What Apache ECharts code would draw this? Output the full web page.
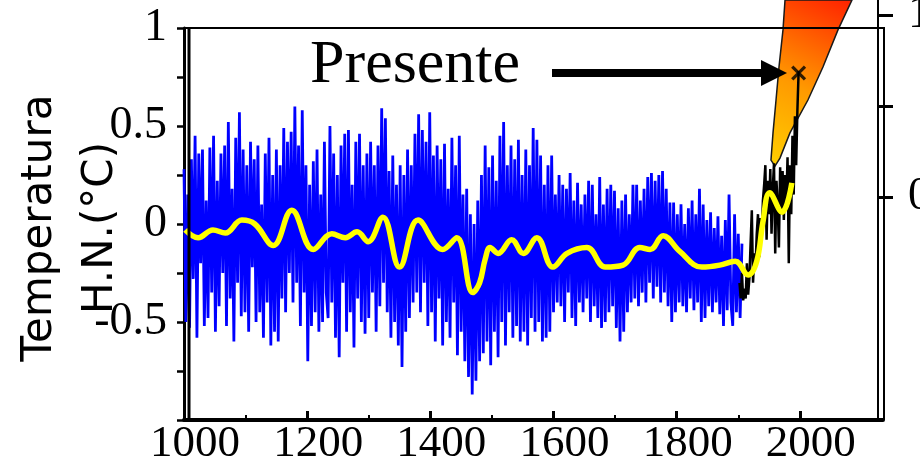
<!DOCTYPE html>
<html><head><meta charset="utf-8">
<script src="https://cdn.jsdelivr.net/npm/echarts@6/dist/echarts.min.js"></script>
<style>html,body{margin:0;padding:0;background:#fff}#c{width:920px;height:465px}</style>
</head><body><div id="c"></div>
<script>
// ---- axis ticks / labels ----
const xTickLabels = [1000, 1200, 1400, 1600, 1800, 2000];
const xMinorTicks = [1100, 1300, 1500, 1700, 1900];
const yLeftLabels = [1, 0.5, 0, -0.5];
const yRightTicks = [0, 0.5, 1];
const yRightLabels = [0, 1];

// ---- reconstruction (blue), one value every 3 years from 1000 ----
const blueStart = 1000, blueStep = 3;
const blue1000 = [0.28,-0.50,0.15,-0.53,0.33,-0.28,0.45,-0.58,0.36,-0.20,0.38,-0.52,0.12,-0.48,0.39,-0.35,0.45,-0.55,0.22,-0.42,0.36,-0.25,0.40,-0.52,0.52,-0.38,0.18,-0.60,0.44,-0.30,0.57,-0.47,0.38];
const blue1099 = [-0.45,0.30,-0.55,0.42,-0.22,0.33,-0.50,0.40,-0.45,0.10,-0.58,0.36,-0.40,0.44,-0.62,0.25,-0.55,0.38,-0.60,0.30,-0.38,0.49,-0.45,0.42,-0.25,0.47,-0.40,0.60,-0.30,0.40,-0.52,0.58,-0.35];
const blue1198 = [0.30,-0.70,0.20,-0.52,0.32,-0.45,0.38,-0.55,0.15,-0.50,0.42,-0.35,-0.48,0.50,-0.40,0.36,-0.58,0.25,-0.68,0.40,-0.30,0.46,-0.55,0.48,-0.45,0.20,-0.63,0.42,-0.38,0.46,-0.50,0.30,-0.56];
const blue1297 = [0.36,-0.48,0.42,-0.35,0.30,-0.55,0.40,-0.42,0.59,-0.30,0.54,-0.45,0.27,-0.58,0.35,-0.50,0.20,-0.62,0.30,-0.73,0.25,-0.55,0.38,-0.48,0.30,-0.40,0.46,-0.35,0.56,-0.45,0.48,-0.30,0.42];
const blue1396 = [-0.52,0.57,-0.45,0.35,-0.60,0.40,-0.38,0.33,-0.62,0.41,-0.50,0.18,-0.58,0.44,-0.40,0.30,-0.67,0.45,-0.55,0.15,-0.70,0.18,-0.78,0.05,-0.87,0.00,-0.80,0.12,-0.70,0.25,-0.66,0.40,-0.60];
const blue1495 = [0.29,-0.72,0.35,-0.55,0.22,-0.68,0.45,-0.50,0.52,-0.62,0.30,-0.45,0.40,-0.58,0.33,-0.52,0.43,-0.60,0.25,-0.55,0.38,-0.62,0.30,-0.48,0.49,-0.55,0.43,-0.50,0.35,-0.60,0.20,-0.58,0.30];
const blue1594 = [-0.55,0.35,-0.45,0.15,-0.40,0.25,-0.42,0.20,-0.50,0.18,-0.35,0.26,-0.48,0.12,-0.52,0.21,-0.40,0.10,-0.45,0.15,-0.38,0.22,-0.50,0.20,-0.42,0.05,-0.48,0.24,-0.53,0.10,-0.50,0.18,-0.45];
const blue1693 = [0.20,-0.42,0.17,-0.53,0.08,-0.60,0.12,-0.55,0.15,-0.45,0.05,-0.40,0.20,-0.38,0.20,-0.42,0.12,-0.35,0.18,-0.40,0.24,-0.30,0.26,-0.38,0.22,-0.32,0.25,-0.40,0.27,-0.35,0.18,-0.42,0.11];
const blue1792 = [-0.50,0.11,-0.45,0.05,-0.40,0.10,-0.42,0.00,-0.45,0.08,-0.38,0.12,-0.44,0.05,-0.40,0.18,-0.50,0.10,-0.48,0.02,-0.42,0.06,-0.45,-0.02,-0.40,0.04,-0.46,-0.06,-0.52,0.02,-0.44,0.15,-0.40];
const blue1891 = [-0.52,0.05,-0.45,-0.05,-0.48,-0.10];

// ---- instrumental record (black), every 2 years from 1902 ----
const blackStart = 1902, blackStep = 2;
const blackVals = [-0.30,-0.38,-0.25,-0.39,-0.33,-0.38,-0.20,-0.36,-0.28,-0.10,0.07,-0.30,-0.15,-0.22,-0.05,0.05,-0.17,0.03,-0.08,0.12,0.20,0.30,-0.08,0.22,0.05,0.28,-0.05,0.18,0.31,-0.15,0.22,0.10,-0.12,0.29,0.05,0.27,0.02,0.25,0.10,0.34,-0.20,0.30,0.05,0.45,0.15,0.55,0.30,0.58,0.78];

// ---- smoothed curve (yellow) ----
const smoothYears = [1002,1023,1047,1067,1094,1115,1145,1175,1210,1240,1262,1281,1299,1323,1350,1380,1420,1443,1469,1480,1489,1497,1510,1532,1551,1573,1599,1622,1654,1684,1713,1740,1757,1778,1805,1841,1870,1895,1916,1930,1940,1951,1971,1987];
const smoothVals  = [-0.03,-0.07,-0.03,-0.046,0.02,0.0,-0.11,0.07,-0.13,-0.05,-0.07,-0.04,-0.09,0.035,-0.22,0.02,-0.13,-0.07,-0.35,-0.30,-0.18,-0.12,-0.15,-0.08,-0.15,-0.07,-0.22,-0.15,-0.12,-0.22,-0.21,-0.12,-0.13,-0.06,-0.14,-0.22,-0.21,-0.19,-0.26,-0.19,0.01,0.16,0.06,0.21];

// ---- projection cone (right axis units) ----
const coneYears = [1959.6,1967.7,1983.9,2013.1,2037.5,2061.9,2084.6,1975.9,1972.6,1966.1,1961.3,1956.4,1953.1];
const coneVals  = [0.170,0.214,0.352,0.533,0.714,0.918,1.082,1.082,0.918,0.714,0.533,0.352,0.203];

// ---- present marker ----
const presentYear = 1998, presentVal = 0.77;

const blueVals = [].concat(blue1000, blue1099, blue1198, blue1297, blue1396, blue1495, blue1594, blue1693, blue1792, blue1891);
const blueData = blueVals.map((v, i) => [blueStart + i * blueStep, v]);
const blackData = blackVals.map((v, i) => [blackStart + i * blackStep, v]);
const smoothData = smoothYears.map((y, i) => [y, smoothVals[i]]);

const SERIF = 'Liberation Serif';
const chart = echarts.init(document.getElementById('c'), null, {renderer: 'canvas'});

const coneFill = new echarts.graphic.LinearGradient(0, 1, 1, 0, [
  {offset: 0, color: '#FFD000'},
  {offset: 0.45, color: '#FF9A00'},
  {offset: 1, color: '#FF2000'}
]);

chart.setOption({
  animation: false,
  backgroundColor: '#fff',
  grid: [
    {left: 184, top: 28, right: 37, bottom: 45, containLabel: false, outerBoundsMode: 'none'},
    {left: 184, top: 0, right: 37, bottom: 45, containLabel: false, outerBoundsMode: 'none'}
  ],
  xAxis: [
    {gridIndex: 0, type: 'value', min: 1000, max: 2135, position: 'bottom',
     axisLine: {show: true, onZero: false, lineStyle: {color: '#000', width: 4}},
     axisTick: {show: true, inside: true, length: 9, customValues: xTickLabels, lineStyle: {color: '#000', width: 3}},
     axisLabel: {customValues: xTickLabels, formatter: v => String(v), fontFamily: SERIF, fontSize: 45, color: '#000', margin: 2, padding: [0, 0, 0, 22]},
     splitLine: {show: false}},
    {gridIndex: 0, type: 'value', min: 1000, max: 2135, position: 'bottom',
     axisLine: {show: false, onZero: false},
     axisTick: {show: true, inside: true, length: 5, customValues: xMinorTicks, lineStyle: {color: '#000', width: 2}},
     axisLabel: {show: false}, splitLine: {show: false}},
    {gridIndex: 1, type: 'value', min: 1000, max: 2135, show: false,
     axisLine: {onZero: false}, splitLine: {show: false}}
  ],
  yAxis: [
    {gridIndex: 0, type: 'value', min: -1, max: 1, interval: 0.5, position: 'left',
     axisLine: {show: true, onZero: false, lineStyle: {color: '#000', width: 3}},
     axisTick: {show: true, length: 7, lineStyle: {color: '#000', width: 2.5}},
     minorTick: {show: true, splitNumber: 2, length: 7, lineStyle: {color: '#000', width: 2.5}},
     axisLabel: {customValues: yLeftLabels, fontFamily: SERIF, fontSize: 46, color: '#000', margin: 17, padding: [8, 0, 0, 0]},
     splitLine: {show: false}, minorSplitLine: {show: false}},
    {gridIndex: 1, type: 'value', min: -1.2253, max: 1.0824, position: 'right', offset: -5,
     axisLine: {show: true, onZero: false, lineStyle: {color: '#000', width: 2}},
     axisTick: {show: true, length: 15, customValues: yRightTicks, lineStyle: {color: '#000', width: 3}},
     axisLabel: {customValues: yRightLabels, showMaxLabel: true, showMinLabel: true, hideOverlap: false,
                 fontFamily: SERIF, fontSize: 46, color: '#000', margin: 30, padding: [8, 0, 0, 0]},
     splitLine: {show: false}}
  ],
  series: [
    {type: 'custom', xAxisIndex: 2, yAxisIndex: 1, z: 1,
     data: [[coneYears[0], coneVals[0]]],
     renderItem: function (params, api) {
       const pts = coneYears.map((y, i) => api.coord([y, coneVals[i]]));
       return {type: 'polygon', shape: {points: pts},
               style: {fill: coneFill, stroke: '#1a1a1a', lineWidth: 1.5}};
     }},
    {type: 'line', xAxisIndex: 0, yAxisIndex: 0, data: blueData, showSymbol: false, z: 2,
     lineStyle: {color: '#0000FF', width: 2.8}, itemStyle: {color: '#0000FF'}},
    {type: 'line', xAxisIndex: 0, yAxisIndex: 0, data: blackData, showSymbol: false, z: 3,
     lineStyle: {color: '#000', width: 2.5}, itemStyle: {color: '#000'}},
    {type: 'line', xAxisIndex: 0, yAxisIndex: 0, data: smoothData, showSymbol: false, smooth: 0.4, z: 4,
     lineStyle: {color: '#FFFF00', width: 5.5}, itemStyle: {color: '#FFFF00'}},
    {type: 'scatter', xAxisIndex: 0, yAxisIndex: 0, data: [[presentYear, presentVal]], z: 5,
     symbol: 'path://M0,1.5L1.5,0L5,3.5L8.5,0L10,1.5L6.5,5L10,8.5L8.5,10L5,6.5L1.5,10L0,8.5L3.5,5Z',
     symbolSize: 15, itemStyle: {color: '#000'}}
  ],
  graphic: [
    {type: 'line', z: 100, shape: {x1: 184, y1: 28, x2: 885, y2: 28}, style: {stroke: '#000', lineWidth: 2}},
    {type: 'line', z: 100, shape: {x1: 189, y1: 28, x2: 189, y2: 420}, style: {stroke: '#000', lineWidth: 3}},
    {type: 'line', z: 100, shape: {x1: 884, y1: 28, x2: 884, y2: 420}, style: {stroke: '#000', lineWidth: 2}},
    {type: 'text', z: 100, x: 310, y: 66,
     style: {text: 'Presente', font: '62px "Liberation Serif"', fill: '#000', textAlign: 'left', textVerticalAlign: 'middle'}},
    {type: 'line', z: 100, shape: {x1: 552, y1: 73, x2: 765, y2: 73}, style: {stroke: '#000', lineWidth: 8}},
    {type: 'polygon', z: 100, shape: {points: [[761, 60], [787, 73], [761, 86]]}, style: {fill: '#000'}},
    {type: 'text', z: 100, x: 71, y: 228, rotation: Math.PI / 2,
     style: {text: 'Temperatura\nH.N.(°C)', font: '42px "DejaVu Sans"', fill: '#000',
             textAlign: 'center', textVerticalAlign: 'middle', lineHeight: 61}}
  ]
});
</script></body></html>
